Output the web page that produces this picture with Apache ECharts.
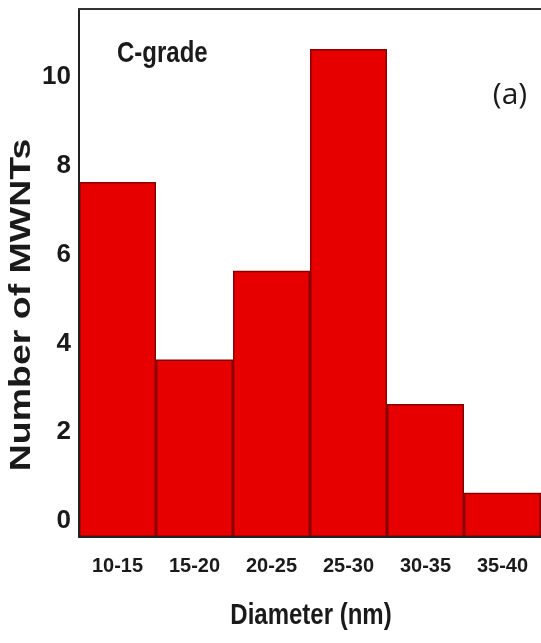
<!DOCTYPE html>
<html>
<head>
<meta charset="utf-8">
<script src="https://cdn.jsdelivr.net/npm/echarts@6/dist/echarts.min.js"></script>
<style>html,body{margin:0;padding:0;background:#fff;}#c{width:541px;height:643px;}</style>
</head>
<body>
<div id="c"></div>
<script>
const categories = ['10-15', '15-20', '20-25', '25-30', '30-35', '35-40'];
const counts = [8, 4, 6, 11, 3, 1];
const yTicks = [0, 2, 4, 6, 8, 10];

const FONT = "'Liberation Sans', Arial, sans-serif";
const chart = echarts.init(document.getElementById('c'), null, {renderer: 'canvas'});
chart.setOption({
  animation: false,
  backgroundColor: '#fff',
  grid: {left: 79, top: 9, right: 0, bottom: 106},
  xAxis: [{
    type: 'category', data: categories, position: 'bottom', z: 5,
    axisLine: {lineStyle: {color: '#222', width: 2}},
    axisTick: {alignWithLabel: true, length: 9, lineStyle: {color: '#333', width: 2}},
    axisLabel: {interval: 0, margin: 19, fontFamily: FONT, fontWeight: 'bold', fontSize: 20, color: '#1a1a1a'}
  }, {
    type: 'category', data: categories, position: 'bottom', z: 5,
    axisLine: {show: false},
    axisTick: {alignWithLabel: false, interval: 0, length: 7, lineStyle: {color: '#333', width: 2}},
    axisLabel: {show: false}
  }, {
    type: 'category', data: categories, position: 'top', z: 5,
    axisLine: {lineStyle: {color: '#333', width: 2}},
    axisTick: {show: false}, axisLabel: {show: false}
  }],
  yAxis: {
    type: 'value', min: 0, max: 11.9, interval: 1, z: 5,
    splitLine: {show: false},
    axisLine: {show: true, lineStyle: {color: '#222', width: 2}},
    axisTick: {inside: true, length: 6, lineStyle: {color: '#333', width: 2}},
    axisLabel: {
      margin: 8, fontFamily: FONT, fontWeight: 'bold', fontSize: 26, color: '#1a1a1a',
      verticalAlign: 'bottom', padding: [0, 0, 3, 0],
      formatter: v => (yTicks.indexOf(v) >= 0 ? String(v) : '')
    }
  },
  series: [{
    type: 'bar', data: counts, barCategoryGap: 0, xAxisIndex: 0,
    itemStyle: {color: '#e60000', borderColor: '#8a0000', borderWidth: 1.5}
  }],
  graphic: [
    {type: 'text', x: 22, y: 305, rotation: Math.PI / 2, scaleX: 1.25,
     style: {text: 'Number of MWNTs', fontFamily: FONT, fontWeight: 'bold', fontSize: 30, fill: '#1a1a1a', align: 'center', verticalAlign: 'middle'}},
    {type: 'text', x: 311, y: 616, scaleY: 1.25,
     style: {text: 'Diameter (nm)', fontFamily: FONT, fontWeight: 'bold', fontSize: 24, fill: '#1a1a1a', align: 'center', verticalAlign: 'middle'}},
    {type: 'text', x: 117, y: 54, scaleY: 1.25,
     style: {text: 'C-grade', fontFamily: FONT, fontWeight: 'bold', fontSize: 24, fill: '#1a1a1a', align: 'left', verticalAlign: 'middle'}},
    {type: 'text', x: 510, y: 95,
     style: {text: '(a)', fontFamily: "'Open Sans', sans-serif", fontSize: 30, fill: '#1a1a1a', align: 'center', verticalAlign: 'middle'}}
  ]
});
</script>
</body>
</html>
